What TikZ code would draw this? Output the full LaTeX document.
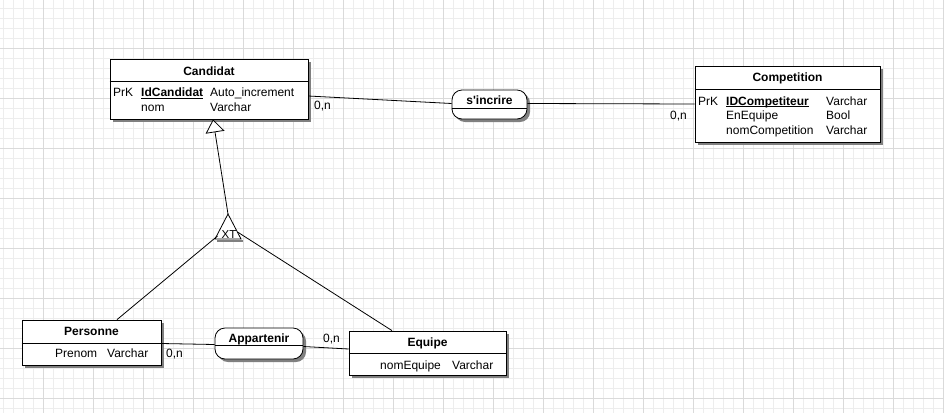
\documentclass[tikz,border=0pt]{standalone}
\usepackage{fontspec}
\setmainfont{Liberation Sans}[Ligatures=TeXOff]
\usetikzlibrary{shadows,arrows.meta,calc}
\definecolor{gridminor}{HTML}{EDEDED}
\definecolor{gridmajor}{HTML}{DADADA}
\definecolor{shadowgray}{HTML}{808080}
\tikzset{
  entbox/.style={draw=black, fill=white, line width=0.8pt, inner sep=0pt,
    drop shadow={shadow xshift=3pt, shadow yshift=-3pt, fill=shadowgray, opacity=1}},
  relbox/.style={entbox, rounded corners=10pt},
  txt/.style={inner sep=0pt, anchor=base west, font=\fontsize{12}{14}\selectfont},
  ktxt/.style={txt, font=\fontsize{12}{14}\selectfont\bfseries},
  ttl/.style={inner sep=0pt, anchor=base, font=\fontsize{12}{14}\selectfont\bfseries},
  card/.style={inner sep=0pt, anchor=base west, font=\fontsize{12}{14}\selectfont},
  conn/.style={draw=black, line width=0.8pt},
  divline/.style={draw=black, line width=0.8pt},
  uline/.style={draw=black, line width=1.1pt},
}
\begin{document}
\begin{tikzpicture}[x=1pt,y=-1pt]
\useasboundingbox (0,0) rectangle (944,413);
\fill[white] (0,0) rectangle (944,413);
% grid
\foreach \gx in {3,13,...,943} {\draw[gridminor, line width=0.9pt] (\gx,0) -- (\gx,413);}
\foreach \gy in {8,18,...,408} {\draw[gridminor, line width=0.9pt] (0,\gy) -- (944,\gy);}
\foreach \gx in {43,93,...,943} {\draw[gridmajor, line width=0.9pt] (\gx,0) -- (\gx,413);}
\foreach \gy in {48,98,...,408} {\draw[gridmajor, line width=0.9pt] (0,\gy) -- (944,\gy);}

% ---------- entities and relations ----------
\node[entbox, minimum width=198pt, minimum height=60pt] (cand) at (209,89) {};
\draw[divline] (cand.west |- 0,81) -- (cand.east |- 0,81);
\node[ttl] (candT) at (209,75) {Candidat};
\node[txt] (candPk) at (113,96.5) {PrK};
\node[ktxt] (candId) at (141,96.5) {IdCandidat};
\draw[uline] ([yshift=-1.8pt]candId.base west) -- ([yshift=-1.8pt]candId.base east);
\node[txt] (candIdT) at (210,96.5) {Auto\_increment};
\node[txt] (candNom) at (141,111) {nom};
\node[txt] (candNomT) at (210,111) {Varchar};

\node[relbox, minimum width=75pt, minimum height=29pt] (sinc) at (489.5,104.5) {};
\draw[divline] (sinc.west |- 0,108) -- (sinc.east |- 0,108);
\node[ttl] (sincT) at (489.5,104.5) {s'incrire};

\node[entbox, minimum width=185pt, minimum height=76pt] (comp) at (787.5,104) {};
\draw[divline] (comp.west |- 0,89) -- (comp.east |- 0,89);
\node[ttl] (compT) at (787.5,81.5) {Competition};
\node[txt] (compPk) at (698,105) {PrK};
\node[ktxt] (compId) at (726,105) {IDCompetiteur};
\draw[uline] ([yshift=-1.8pt]compId.base west) -- ([yshift=-1.8pt]compId.base east);
\node[txt] (compIdT) at (826,105) {Varchar};
\node[txt] (compEq) at (726,119.5) {EnEquipe};
\node[txt] (compEqT) at (826,119.5) {Bool};
\node[txt] (compNom) at (726,134) {nomCompetition};
\node[txt] (compNomT) at (826,134) {Varchar};

\node[entbox, minimum width=139pt, minimum height=45pt] (pers) at (91.5,342.5) {};
\draw[divline] (pers.west |- 0,343) -- (pers.east |- 0,343);
\node[ttl] (persT) at (91.5,335.5) {Personne};
\node[txt] (persPr) at (55,357.5) {Prenom};
\node[txt] (persPrT) at (107,357.5) {Varchar};

\node[relbox, minimum width=88pt, minimum height=31pt] (app) at (259,343.5) {};
\draw[divline] (app.west |- 0,345) -- (app.east |- 0,345);
\node[ttl] (appT) at (259,342) {Appartenir};

\node[entbox, minimum width=157pt, minimum height=44pt] (equ) at (427.5,353) {};
\draw[divline] (equ.west |- 0,353) -- (equ.east |- 0,353);
\node[ttl] (equT) at (427.5,346) {Equipe};
\node[txt] (equNom) at (380,369) {nomEquipe};
\node[txt] (equNomT) at (452,369) {Varchar};

% ---------- XT triangle ----------
\coordinate (xtA) at (228,214);
\coordinate (xtBL) at (215,239);
\coordinate (xtBR) at (241,239);
\coordinate (xtL) at (217.5,236);
\coordinate (xtR) at (237.5,232);
\draw[shadowgray, line width=2.5pt] (217,241) -- (243,241);
\draw[conn, fill=white] (xtA) -- (xtBR) -- (xtBL) -- cycle;
\node[inner sep=0pt, anchor=base, font=\fontsize{11.5}{13}\selectfont] (xtT) at (229,238) {XT};

% ---------- connectors ----------
\draw[conn] ([yshift=-7pt]cand.east) -- ([yshift=1pt]sinc.west);
\draw[conn] ([yshift=1pt]sinc.east) -- (comp.west);
\draw[conn, -{Triangle[open, fill=white, length=13pt, width=19pt]}] (xtA) -- ([xshift=4pt]cand.south);
\draw[conn] (xtL) -- ([xshift=25.5pt]pers.north);
\draw[conn] (xtR) -- ([xshift=-35.5pt]equ.north);
\draw[conn] ([yshift=-1pt]pers.east) -- ([yshift=-1pt]app.west);
\draw[conn] ([yshift=-3pt]app.east) -- ([yshift=4pt]equ.west);

% ---------- cardinalities ----------
\node[card] (c1) at (314,109) {0,n};
\node[card] (c2) at (670,119) {0,n};
\node[card] (c3) at (166,357.5) {0,n};
\node[card] (c4) at (323,342.5) {0,n};
\end{tikzpicture}
\end{document}
